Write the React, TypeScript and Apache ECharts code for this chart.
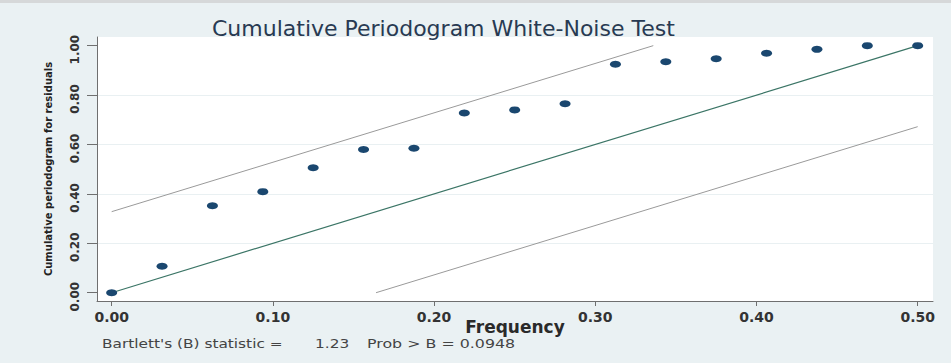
import React, { useEffect, useRef } from "react";
import * as echarts from "echarts";

// Fourier frequencies and the cumulative periodogram values
const frequencies = [
  0, 0.03125, 0.0625, 0.09375, 0.125, 0.15625, 0.1875, 0.21875, 0.25,
  0.28125, 0.3125, 0.34375, 0.375, 0.40625, 0.4375, 0.46875, 0.5,
];
const cumulative = [
  0, 0.107, 0.352, 0.409, 0.506, 0.58, 0.585, 0.727, 0.74, 0.765, 0.925,
  0.935, 0.947, 0.969, 0.985, 1.0, 1.0,
];

// Reference line and confidence bands (endpoints)
const centerLineX = [0, 0.5];
const centerLineY = [0, 1];
const upperBandX = [0, 0.336];
const upperBandY = [0.328, 1];
const lowerBandX = [0.164, 0.5];
const lowerBandY = [0, 0.672];

const xTicks = [0, 0.1, 0.2, 0.3, 0.4, 0.5];
const yTicks = [0, 0.2, 0.4, 0.6, 0.8, 1.0];

const titleText = "Cumulative Periodogram White-Noise Test";
const xTitle = "Frequency";
const yTitle = "Cumulative periodogram for residuals";
const noteParts = ["Bartlett's (B) statistic =", "1.23", "Prob > B = 0.0948"];

const pairs = (xs: number[], ys: number[]) => xs.map((x, i) => [x, ys[i]]);

export default function App() {
  const ref = useRef<HTMLDivElement>(null);

  useEffect(() => {
    if (!ref.current) return;
    const chart = echarts.init(ref.current, null, { renderer: "svg" });
    const axisColor = "#6f6f6f";
    const labelFont = "DejaVu Sans";
    const noteStyle = {
      fontFamily: labelFont,
      fontSize: 12,
      fill: "#444",
      verticalAlign: "middle",
    };
    chart.setOption({
      animation: false,
      backgroundColor: "#eaf1f3",
      title: {
        text: titleText,
        left: 207,
        top: 12,
        textStyle: {
          fontFamily: labelFont,
          fontSize: 22,
          fontWeight: "normal",
          color: "#283a52",
        },
      },
      grid: {
        left: 97,
        right: 18,
        top: 37,
        bottom: 62,
        show: true,
        backgroundColor: "#ffffff",
        borderWidth: 0,
      },
      xAxis: {
        type: "value",
        min: -0.0091,
        max: 0.5095,
        name: xTitle,
        nameLocation: "middle",
        nameGap: 17,
        nameMoveOverlap: false,
        nameTextStyle: {
          fontFamily: labelFont,
          fontSize: 17,
          fontWeight: "bold",
          color: "#2a2a2a",
        },
        axisLine: { onZero: false, lineStyle: { color: axisColor, width: 1 } },
        axisTick: {
          show: true,
          customValues: xTicks,
          length: 5,
          lineStyle: { color: axisColor },
        },
        axisLabel: {
          customValues: xTicks,
          formatter: (v: number) => v.toFixed(2),
          margin: 9,
          fontFamily: labelFont,
          fontSize: 14,
          fontWeight: "bold",
          color: "#333",
        },
        splitLine: { show: false },
      },
      yAxis: {
        type: "value",
        min: -0.0336,
        max: 1.035,
        name: yTitle,
        nameLocation: "middle",
        nameGap: 44,
        nameMoveOverlap: false,
        nameTextStyle: {
          fontFamily: labelFont,
          fontSize: 10,
          fontWeight: "bold",
          color: "#222",
        },
        axisLine: { show: true, onZero: false, lineStyle: { color: axisColor, width: 1 } },
        axisTick: {
          show: true,
          customValues: yTicks,
          length: 10,
          lineStyle: { color: axisColor },
        },
        axisLabel: {
          customValues: yTicks,
          formatter: (v: number) => v.toFixed(2),
          rotate: 90,
          margin: 16,
          padding: [0, 8, 0, 0],
          fontFamily: labelFont,
          fontSize: 12,
          fontWeight: "bold",
          color: "#333",
        },
        splitLine: {
          show: true,
          showMinLine: false,
          showMaxLine: false,
          lineStyle: { color: "#e9f0f2", width: 1 },
        },
      },
      graphic: [
        {
          type: "rect",
          shape: { x: 0, y: 0, width: 951, height: 3 },
          style: { fill: "#d6d8d9" },
        },
        { type: "text", x: 102, y: 344, scaleX: 1.28, style: { ...noteStyle, text: noteParts[0] } },
        { type: "text", x: 315, y: 344, scaleX: 1.28, style: { ...noteStyle, text: noteParts[1] } },
        { type: "text", x: 367, y: 344, scaleX: 1.32, style: { ...noteStyle, text: noteParts[2] } },
      ],
      series: [
        {
          name: "upper",
          type: "line",
          data: pairs(upperBandX, upperBandY),
          symbol: "none",
          lineStyle: { color: "#9a9a9a", width: 1 },
          z: 1,
        },
        {
          name: "lower",
          type: "line",
          data: pairs(lowerBandX, lowerBandY),
          symbol: "none",
          lineStyle: { color: "#9a9a9a", width: 1 },
          z: 1,
        },
        {
          name: "center",
          type: "line",
          data: pairs(centerLineX, centerLineY),
          symbol: "none",
          lineStyle: { color: "#3b7566", width: 1.2 },
          z: 2,
        },
        {
          name: "periodogram",
          type: "scatter",
          data: pairs(frequencies, cumulative),
          symbol: "circle",
          symbolSize: [11, 7],
          itemStyle: { color: "#1a476f", opacity: 1 },
          z: 3,
        },
      ],
    });
    return () => chart.dispose();
  }, []);

  return (
    <div
      ref={ref}
      style={{ position: "absolute", left: 0, top: 0, width: 951, height: 363 }}
    />
  );
}
